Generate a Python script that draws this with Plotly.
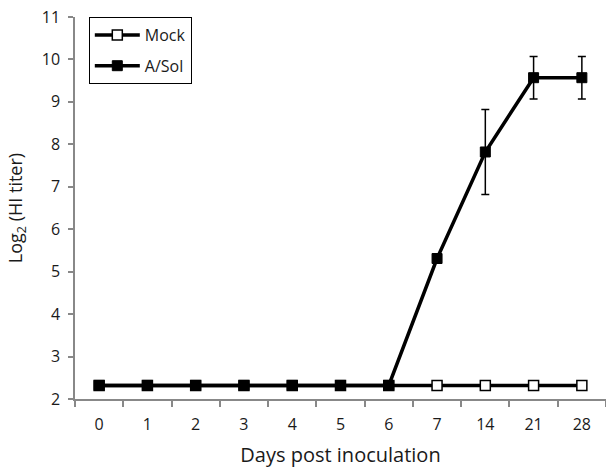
import plotly.graph_objects as go

days = ["0", "1", "2", "3", "4", "5", "6", "7", "14", "21", "28"]
mock = [2.32, 2.32, 2.32, 2.32, 2.32, 2.32, 2.32, 2.32, 2.32, 2.32, 2.32]
asol = [2.32, 2.32, 2.32, 2.32, 2.32, 2.32, 2.32, 5.31, 7.82, 9.57, 9.57]
asol_err = [0, 0, 0, 0, 0, 0, 0, 0, 1.0, 0.5, 0.5]
y_ticks = [2, 3, 4, 5, 6, 7, 8, 9, 10, 11]

FONT = "Open Sans"
TXT = "#1a1a1a"

fig = go.Figure()
fig.add_trace(go.Scatter(
    x=days, y=mock, name="Mock", mode="lines+markers", legendgroup="m",
    line=dict(color="black", width=3.5),
    marker=dict(symbol="square", size=10, color="white",
                line=dict(color="black", width=1.5)),
))
fig.add_trace(go.Scatter(
    x=days, y=asol, name="A/Sol", mode="lines+markers", legendgroup="a",
    line=dict(color="black", width=3.5),
    marker=dict(symbol="square", size=10, color="black",
                line=dict(color="black", width=1)),
    error_y=dict(type="data", array=asol_err, visible=True,
                 color="black", thickness=1.5, width=4),
))

fig.update_layout(
    width=606, height=468,
    margin=dict(l=75, r=0, t=17, b=69),
    paper_bgcolor="white", plot_bgcolor="white",
    font=dict(family=FONT, size=16, color=TXT),
    showlegend=True,
    legend=dict(x=0.026, y=1.0, xanchor="left", yanchor="top",
                bordercolor="black", borderwidth=1, bgcolor="white",
                font=dict(family=FONT, size=16, color=TXT),
                itemwidth=45, tracegroupgap=7),
    xaxis=dict(
        type="category", categoryorder="array", categoryarray=days,
        range=[-0.5, 10.5], automargin=False,
        showline=True, linecolor="#888", linewidth=1.5,
        ticks="outside", ticklen=6, tickcolor="#888", tickwidth=1.5,
        tickson="boundaries", showgrid=False, zeroline=False,
        ticklabelstandoff=10,
        tickfont=dict(family=FONT, size=16, color=TXT),
        title=dict(text="Days post inoculation", standoff=15,
                   font=dict(family=FONT, size=20, color=TXT)),
    ),
    yaxis=dict(
        range=[2, 11], tickvals=y_ticks, automargin=False,
        showline=True, linecolor="#888", linewidth=1.5,
        ticks="outside", ticklen=5, tickcolor="#888", tickwidth=1.5,
        showgrid=False, zeroline=False,
        ticklabelstandoff=5,
        tickfont=dict(family=FONT, size=16, color=TXT),
        title=dict(text="Log<sub>2</sub> (HI titer)", standoff=14,
                   font=dict(family=FONT, size=18, color=TXT)),
    ),
)

fig.write_html("out.html", config={"displayModeBar": False},
               post_script="document.body.style.margin='0';")
